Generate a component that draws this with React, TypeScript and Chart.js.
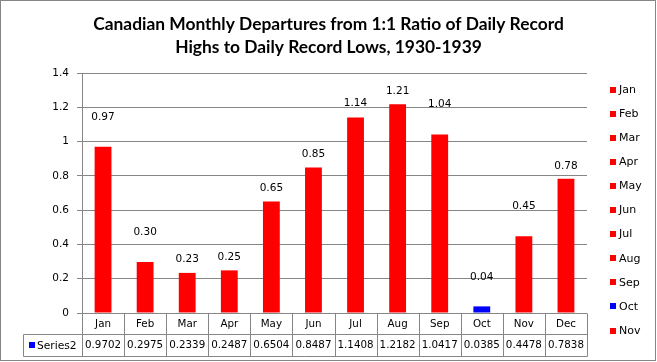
import React, { useEffect, useRef } from "react";
import { Chart, registerables } from "chart.js";

Chart.register(...registerables);

const categories = ["Jan", "Feb", "Mar", "Apr", "May", "Jun", "Jul", "Aug", "Sep", "Oct", "Nov", "Dec"];
const values = [0.9702, 0.2975, 0.2339, 0.2487, 0.6504, 0.8487, 1.1408, 1.2182, 1.0417, 0.0385, 0.4478, 0.7838];
const dataLabels = ["0.97", "0.30", "0.23", "0.25", "0.65", "0.85", "1.14", "1.21", "1.04", "0.04", "0.45", "0.78"];
const legendLabels = ["Jan", "Feb", "Mar", "Apr", "May", "Jun", "Jul", "Aug", "Sep", "Oct", "Nov"];
const seriesName = "Series2";
const titleLines = [
  "Canadian Monthly Departures from 1:1 Ratio of Daily Record",
  "Highs to Daily Record Lows, 1930-1939",
];
const yTicks = { min: 0, max: 1.4, step: 0.2 };

// styling
const RED = "#FF0000";
const BLUE = "#0000FF";
const GRID = "#868686";
const barColors = categories.map((c) => (c === "Oct" ? BLUE : RED));
const legendColors = legendLabels.map((c) => (c === "Oct" ? BLUE : RED));
const labelOffsets = [29, 30, 14, 13, 13, 13, 14, 13, 30, 29, 30, 12];
const TXT = "DejaVu Sans";

const decorPlugin = {
  id: "decor",
  afterDraw(chart: any) {
    const ctx = chart.ctx as CanvasRenderingContext2D;
    const area = chart.chartArea;
    const xs = chart.scales.x;
    const n = categories.length;
    const cw = (area.right - area.left) / n;
    ctx.save();

    // outer border
    ctx.strokeStyle = GRID;
    ctx.lineWidth = 1;
    ctx.strokeRect(0.5, 0.5, 655, 360);

    // title
    ctx.fillStyle = "#000";
    ctx.textAlign = "center";
    ctx.textBaseline = "alphabetic";
    ctx.font = "bold 16px Lato";
    const w = ctx.measureText(titleLines[0]).width;
    const size = (16 * 471) / w;
    ctx.font = `bold ${size.toFixed(2)}px Lato`;
    ctx.fillText(titleLines[0], 328.5, 29.5);
    ctx.fillText(titleLines[1], 328.5, 52.5);

    // data labels
    const meta = chart.getDatasetMeta(0);
    ctx.font = `10.5px "${TXT}"`;
    ctx.textBaseline = "middle";
    ctx.textAlign = "center";
    meta.data.forEach((bar: any, i: number) => {
      ctx.fillText(dataLabels[i], bar.x, bar.y - labelOffsets[i]);
    });

    // data table
    const top = area.bottom;
    const r1 = top + 21;
    const r2 = r1 + 21.5;
    const left0 = 23;
    ctx.strokeStyle = GRID;
    ctx.beginPath();
    const px = (v: number) => Math.round(v) + 0.5;
    for (let k = 0; k <= n; k++) {
      const x = px(area.left + k * cw);
      ctx.moveTo(x, px(top));
      ctx.lineTo(x, px(r2));
    }
    ctx.moveTo(px(left0), px(r1));
    ctx.lineTo(px(area.right), px(r1));
    ctx.moveTo(px(left0), px(r2));
    ctx.lineTo(px(area.right), px(r2));
    ctx.moveTo(px(left0), px(r1));
    ctx.lineTo(px(left0), px(r2));
    ctx.stroke();

    ctx.fillStyle = "#000";
    ctx.font = `10.3px "${TXT}"`;
    categories.forEach((c, i) => {
      const x = xs.getPixelForValue(i);
      ctx.fillText(c, x, (top + r1) / 2 + 1);
      ctx.fillText(values[i].toFixed(4), x, (r1 + r2) / 2 + 1);
    });
    // series key in table
    ctx.fillStyle = BLUE;
    ctx.fillRect(29, 342, 6, 6);
    ctx.fillStyle = "#000";
    ctx.textAlign = "left";
    ctx.font = `10.7px "${TXT}"`;
    ctx.fillText(seriesName, 37, (r1 + r2) / 2 + 1);

    // right legend
    ctx.font = `11px "${TXT}"`;
    legendLabels.forEach((l, i) => {
      const y = 89.5 + i * 24.1;
      ctx.fillStyle = legendColors[i];
      ctx.fillRect(610, Math.round(y) - 3, 6, 6);
      ctx.fillStyle = "#000";
      ctx.fillText(l, 619, y + 0.5);
    });
    ctx.restore();
  },
};

export default function App() {
  const ref = useRef<HTMLCanvasElement>(null);
  useEffect(() => {
    if (!ref.current) return;
    const chart = new Chart(ref.current, {
      type: "bar",
      data: {
        labels: categories,
        datasets: [
          {
            label: seriesName,
            data: values,
            backgroundColor: barColors,
            borderWidth: 0,
            barPercentage: 0.4,
            categoryPercentage: 1,
          },
        ],
      },
      options: {
        responsive: false,
        animation: false,
        layout: { padding: { left: 0, right: 70, top: 73, bottom: 49 } },
        plugins: { legend: { display: false }, title: { display: false }, tooltip: { enabled: false } },
        scales: {
          x: { display: false, offset: true },
          y: {
            min: yTicks.min,
            max: yTicks.max,
            afterFit: (s: any) => {
              s.width = 82;
            },
            ticks: {
              stepSize: yTicks.step,
              padding: 8,
              color: "#000",
              font: { family: TXT, size: 10.5 },
              callback: (v: any) => String(Math.round(Number(v) * 10) / 10),
            },
            grid: { color: GRID, lineWidth: 1, tickLength: 5, drawTicks: true, tickColor: GRID },
            border: { display: true, color: GRID },
          },
        },
      },
      plugins: [decorPlugin],
    });
    return () => chart.destroy();
  }, []);
  return (
    <div style={{ position: "fixed", left: 0, top: 0, width: 657, height: 362, background: "#fff" }}>
      <canvas ref={ref} width={657} height={362} style={{ display: "block" }} />
    </div>
  );
}
